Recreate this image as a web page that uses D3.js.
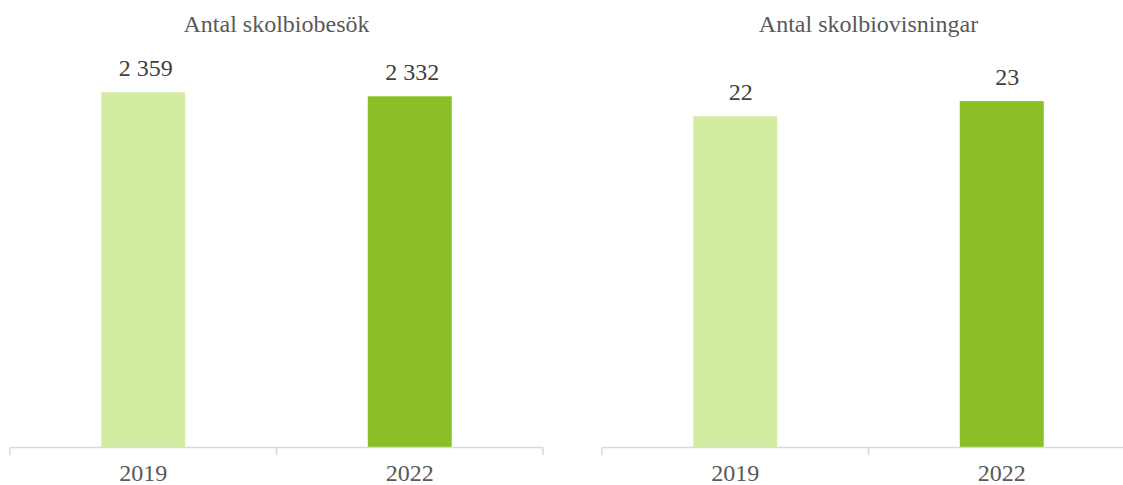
<!DOCTYPE html>
<html>
<head>
<meta charset="utf-8">
<script src="https://cdn.jsdelivr.net/npm/d3@7"></script>
<style>
  body { margin: 0; background: #fff; }
</style>
</head>
<body>
<div id="chart"></div>
<script>
// Chart data
var years = ["2019", "2022"];
var titles = ["Antal skolbiobesök", "Antal skolbiovisningar"];
var besok = [2359, 2332];
var visningar = [22, 23];
var maxValues = [2500, 25];
var barColors = ["#d3eca1", "#8abf27"];

var fontFam = "'Liberation Serif'";

var svgWidth = 1123;
var svgHeight = 485;

var svg = d3.select("#chart")
  .append("svg")
  .attr("width", svgWidth)
  .attr("height", svgHeight);

// panel params: axis from x0 to x1, baseline y, label nudge
var panels = [
  { x0: 10, x1: 543, values: besok, dx: 2.5 },
  { x0: 602, x1: 1135, values: visningar, dx: 5.5 }
];
var baseY = 447.5;
var topY = 71;

var fmt = function(v) {
  return d3.format(",")(v).replace(/,/g, " ");
};

panels.forEach(function(p, i) {
  var g = svg.append("g");

  var x = d3.scaleBand()
    .domain(years)
    .range([p.x0, p.x1])
    .paddingInner(0.685)
    .paddingOuter(0.3425);

  var y = d3.scaleLinear()
    .domain([0, maxValues[i]])
    .range([baseY, topY]);

  // bars
  g.selectAll("rect")
    .data(p.values)
    .enter()
    .append("rect")
    .attr("x", (d, j) => x(years[j]))
    .attr("y", d => y(d))
    .attr("width", x.bandwidth())
    .attr("height", d => baseY - y(d))
    .attr("fill", (d, j) => barColors[j]);

  // value labels
  g.selectAll(".val")
    .data(p.values)
    .enter()
    .append("text")
    .attr("class", "val")
    .attr("x", (d, j) => x(years[j]) + x.bandwidth() / 2 + p.dx)
    .attr("y", d => y(d) - 16.5)
    .attr("text-anchor", "middle")
    .attr("font-family", fontFam)
    .attr("font-size", "24px")
    .attr("fill", "#404040")
    .text(d => fmt(d));

  // axis line with category ticks between bands
  var step = (p.x1 - p.x0) / years.length;
  g.append("line")
    .attr("x1", p.x0).attr("x2", p.x1)
    .attr("y1", baseY).attr("y2", baseY)
    .attr("stroke", "#d9d9d9")
    .attr("stroke-width", 1.5);

  d3.range(years.length + 1).forEach(function(k) {
    g.append("line")
      .attr("x1", p.x0 + k * step).attr("x2", p.x0 + k * step)
      .attr("y1", baseY).attr("y2", baseY + 7.5)
      .attr("stroke", "#d9d9d9")
      .attr("stroke-width", 1.5);
  });

  // tick labels
  g.selectAll(".tick-label")
    .data(years)
    .enter()
    .append("text")
    .attr("class", "tick-label")
    .attr("x", d => x(d) + x.bandwidth() / 2)
    .attr("y", 481)
    .attr("text-anchor", "middle")
    .attr("font-family", fontFam)
    .attr("font-size", "24px")
    .attr("fill", "#595959")
    .text(d => d);

  // title
  g.append("text")
    .attr("x", (p.x0 + p.x1) / 2)
    .attr("y", 32)
    .attr("text-anchor", "middle")
    .attr("font-family", fontFam)
    .attr("font-size", "24px")
    .attr("fill", "#595959")
    .text(titles[i]);
});
</script>
</body>
</html>
